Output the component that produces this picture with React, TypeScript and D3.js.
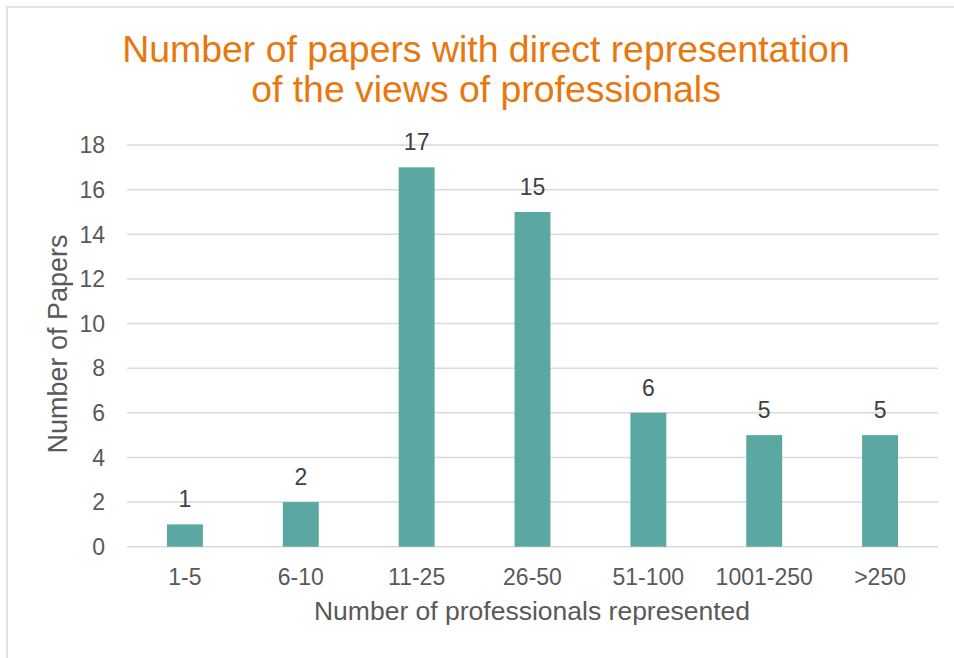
import React from "react";
import * as d3 from "d3";

const categories = ["1-5", "6-10", "11-25", "26-50", "51-100", "1001-250", ">250"];
const values = [1, 2, 17, 15, 6, 5, 5];
const yTicks = [0, 2, 4, 6, 8, 10, 12, 14, 16, 18];
const titleLines = ["Number of papers with direct representation", "of the views of professionals"];
const xTitle = "Number of professionals represented";
const yTitle = "Number of Papers";

const W = 954;
const H = 658;
const left = 127;
const right = 938;
const top = 145;
const bottom = 546.7;
const font = "'Liberation Sans', Arial, sans-serif";
const gray = "#595959";

export default function App() {
  const x = d3.scaleBand<string>().domain(categories).range([left, right]).paddingInner(0.69).paddingOuter(0.345);
  const y = d3.scaleLinear().domain([0, 18]).range([bottom, top]);
  return (
    <svg width={W} height={H} style={{ position: "absolute", left: 0, top: 0, background: "#fff" }} fontFamily={font}>
      <rect x={7} y={7} width={980} height={700} fill="#fff" stroke="#d9d9d9" strokeWidth={1.5} />
      {titleLines.map((t, i) => (
        <text key={i} x={486} y={62 + i * 40} textAnchor="middle" fontSize={37.4} fill="#E8770E">
          {t}
        </text>
      ))}
      {yTicks.map((t) => (
        <g key={t}>
          <line x1={left} x2={right} y1={y(t)} y2={y(t)} stroke="#d9d9d9" strokeWidth={1.5} />
          <text x={105} y={y(t)} dy="0.36em" textAnchor="end" fontSize={23} fill={gray}>
            {t}
          </text>
        </g>
      ))}
      {categories.map((c, i) => (
        <g key={c}>
          <rect x={x(c)} y={y(values[i])} width={x.bandwidth()} height={y(0) - y(values[i])} fill="#5BA8A3" />
          <text x={x(c)! + x.bandwidth() / 2} y={y(values[i]) - 17} textAnchor="middle" fontSize={23} fill="#404040">
            {values[i]}
          </text>
          <text x={x(c)! + x.bandwidth() / 2} y={585} textAnchor="middle" fontSize={23} fill={gray}>
            {c}
          </text>
        </g>
      ))}
      <text x={532} y={620} textAnchor="middle" fontSize={26.5} fill={gray}>
        {xTitle}
      </text>
      <text transform={`translate(67,344) rotate(-90)`} textAnchor="middle" fontSize={27} fill={gray}>
        {yTitle}
      </text>
    </svg>
  );
}
